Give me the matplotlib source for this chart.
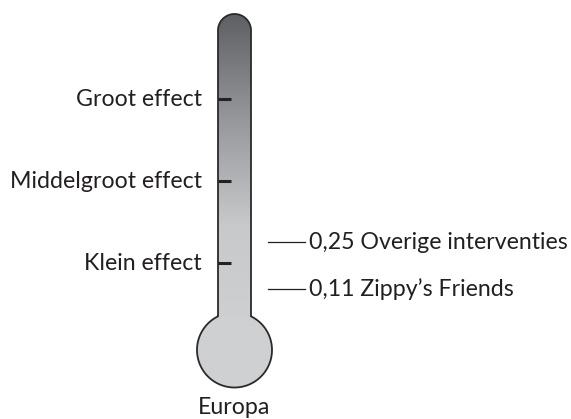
import numpy as np
import matplotlib.pyplot as plt
from matplotlib.path import Path
from matplotlib.patches import PathPatch
from matplotlib.colors import LinearSegmentedColormap

# effect size scale (Cohen's d) marked on the thermometer
scale_labels = ["Groot effect", "Middelgroot effect", "Klein effect"]
scale_values = [0.8, 0.5, 0.2]

# results for Europe
result_labels = ["Overige interventies", "Zippy\u2019s Friends"]
result_values = [0.25, 0.11]
result_label_pos = [0.276, 0.105]  # where the labels sit on the scale
region = "Europa"

plt.rcParams["font.family"] = ["Lato", "DejaVu Sans"]

W, H = 571, 419
k = 273.3  # pixels per effect-size unit
v_top = 317.7 / k
v_bot = -(H - 317.7) / k
fs = 16.7

fig = plt.figure(figsize=(W / 100, H / 100), dpi=100)
ax = fig.add_axes([0, 0, 1, 1])
ax.set_xlim(0, W)
ax.set_ylim(v_bot, v_top)
ax.axis("off")

# thermometer outline
cx, r, R = 234.5, 16.5, 37.5
v_dome = (317.7 - 30.5) / k
v_bulb = (317.7 - 350) / k
t_j = np.arccos(r / R)

t1 = np.linspace(np.pi, 0, 60)
t2 = np.linspace(t_j, -np.pi - t_j, 200)
xs = np.concatenate([[cx - r], cx + r * np.cos(t1), cx + R * np.cos(t2)])
ys = np.concatenate([[v_bulb + R * np.sin(t_j) / k],
                     v_dome + r * np.sin(t1) / k,
                     v_bulb + R * np.sin(t2) / k])
verts = np.column_stack([xs, ys])
path = Path(np.vstack([verts, verts[:1]]),
            [Path.MOVETO] + [Path.LINETO] * len(verts[1:]) + [Path.CLOSEPOLY])

cmap = LinearSegmentedColormap.from_list("thermo", ["#cfd0d2", "#c8c9cb", "#97989b", "#5e6064"])
n = 400
vv = np.linspace(v_bot, v_top, n)
v_j = v_bulb + R * np.sin(t_j) / k
frac = np.clip((vv - v_j) / (v_dome + r / k - v_j), 0, 1)
grad = np.where(vv < v_j, 0.0, 0.05 + 0.95 * frac)
img = ax.imshow(grad[:, None], extent=[cx - R, cx + R, v_bot, v_top], origin="lower",
                cmap=cmap, vmin=0, vmax=1, aspect="auto", interpolation="bilinear")
patch = PathPatch(path, facecolor="none", edgecolor="#2a2a2a", lw=1.3, zorder=3)
ax.add_patch(patch)
img.set_clip_path(patch)

# scale ticks and labels
for lab, val in zip(scale_labels, scale_values):
    ax.plot([cx - r, cx - r + 13], [val, val], color="#222222", lw=2.2, zorder=4,
            solid_capstyle="butt")
    ax.text(202, val, lab, ha="right", va="center", fontsize=fs, color="#231f20")

# results
for lab, val, pos in zip(result_labels, result_values, result_label_pos):
    ax.plot([268, 305], [pos, pos], color="#231f20", lw=0.9)
    ax.text(309, pos, f"{val:.2f}".replace(".", ",") + " " + lab,
            ha="left", va="center", fontsize=fs, color="#231f20")

ax.text(cx, (317.7 - 407) / k, region, ha="center", va="center", fontsize=fs,
        color="#231f20")

fig.savefig("out.png", dpi=100)
